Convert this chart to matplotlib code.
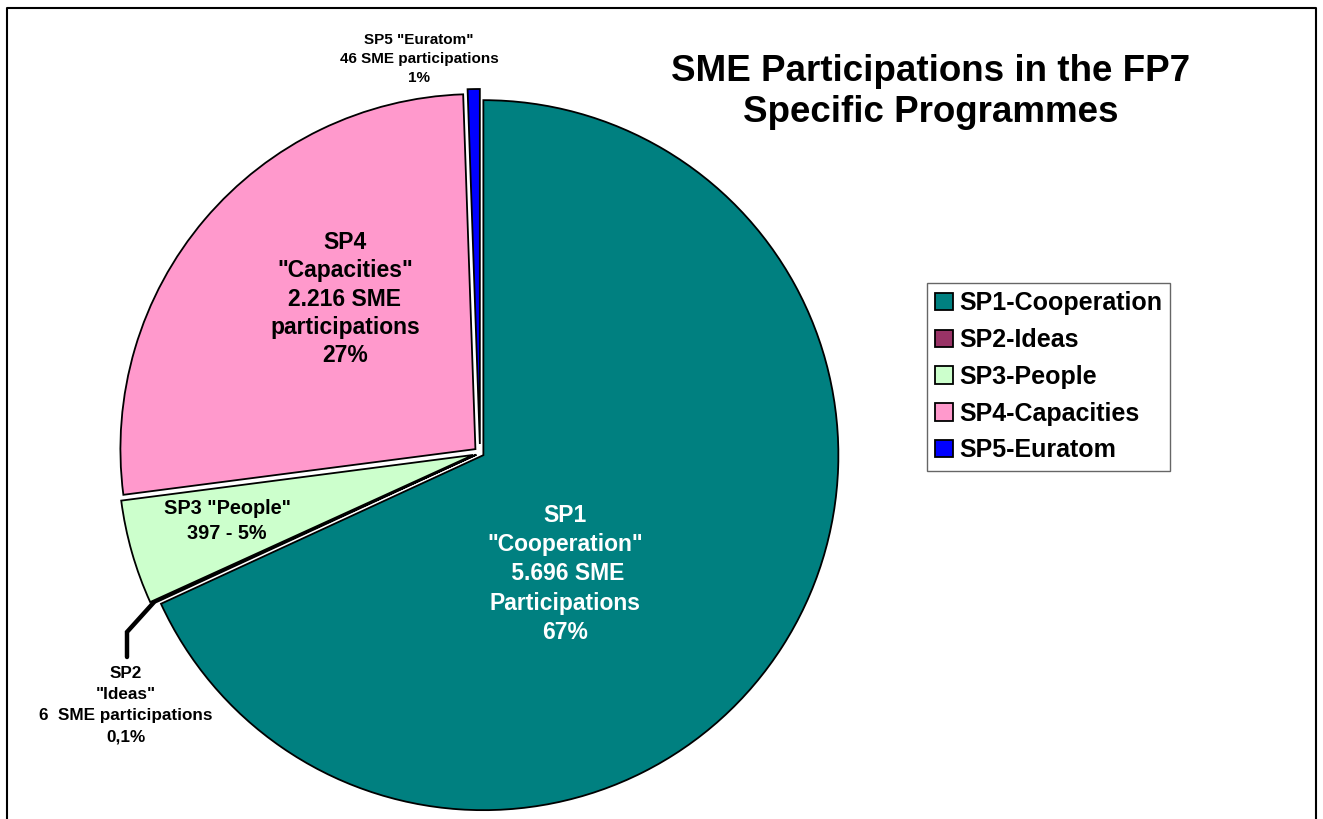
import matplotlib.pyplot as plt
from matplotlib.lines import Line2D
import numpy as np

plt.rcParams['font.family'] = ['Liberation Sans', 'DejaVu Sans']
plt.rcParams['font.weight'] = 'bold'

programmes = ["SP1-Cooperation", "SP2-Ideas", "SP3-People", "SP4-Capacities", "SP5-Euratom"]
participations = [5696, 6, 397, 2216, 46]
colors = ["#008080", "#993366", "#CCFFCC", "#FF99CC", "#0000FF"]
# explode offsets are in data units (pixels here)
explode = [4, 4, 7, 6, 9]

W, H = 1323, 819
fig = plt.figure(figsize=(W / 100, H / 100), dpi=100)
ax = fig.add_axes([0, 0, 1, 1])

cx, cy, R = 480, H - 453, 355
wedges, _ = ax.pie(participations, colors=colors, explode=explode,
                   startangle=90, counterclock=False, radius=R, center=(cx, cy),
                   wedgeprops=dict(edgecolor="black", linewidth=1.3))
ax.set_aspect("equal")
ax.set_xlim(0, W)
ax.set_ylim(0, H)
ax.axis("off")

# slice labels
ax.text(565, H - 574, 'SP1\n"Cooperation"\n 5.696 SME\nParticipations\n67%',
        ha="center", va="center", color="white", fontsize=16.5,
        fontweight="bold", linespacing=1.34)
ax.text(345, H - 299, 'SP4\n"Capacities"\n2.216 SME\nparticipations\n27%',
        ha="center", va="center", color="black", fontsize=16.5,
        fontweight="bold", linespacing=1.29)
ax.text(227, H - 521, 'SP3 "People"\n397 - 5%',
        ha="center", va="center", color="black", fontsize=14.3,
        fontweight="bold", linespacing=1.42)
ax.text(419, H - 59, 'SP5 "Euratom"\n46 SME participations\n1%',
        ha="center", va="center", color="black", fontsize=11,
        fontweight="bold", linespacing=1.45)
ax.text(126, H - 705, 'SP2\n"Ideas"\n6  SME participations\n0,1%',
        ha="center", va="center", color="black", fontsize=12.3,
        fontweight="bold", linespacing=1.5)

# leader line for SP2 from its wedge edge
w2 = wedges[1]
th = np.deg2rad((w2.theta1 + w2.theta2) / 2)
px = w2.center[0] + w2.r * np.cos(th)
py = w2.center[1] + w2.r * np.sin(th)
ax.plot([px, 127, 127], [py, H - 632, H - 657], color="black",
        linewidth=3.2, solid_capstyle="round", solid_joinstyle="miter")

# title
fig.text(931, H - 92, "SME Participations in the FP7\nSpecific Programmes",
         transform=None, ha="center", va="center", fontsize=26.5,
         fontweight="bold", linespacing=1.2)

# legend
leg = ax.legend(wedges, programmes, loc="upper left",
                bbox_to_anchor=(927 / W, 1 - 283 / H), frameon=True,
                fancybox=False, edgecolor="#404040", fontsize=18,
                handlelength=0.7, handleheight=0.7, handletextpad=0.25,
                labelspacing=0.51, borderpad=0.33, borderaxespad=0)
leg.get_frame().set_linewidth(1.0)
for t in leg.get_texts():
    t.set_fontweight("bold")

# outer frame (left, top, right)
fig.add_artist(Line2D([7 / W, 7 / W, 1316 / W, 1316 / W],
                      [0, 1 - 7.5 / H, 1 - 7.5 / H, 0],
                      transform=fig.transFigure, color="black", linewidth=1.5))

fig.savefig("out.png", dpi=100)
